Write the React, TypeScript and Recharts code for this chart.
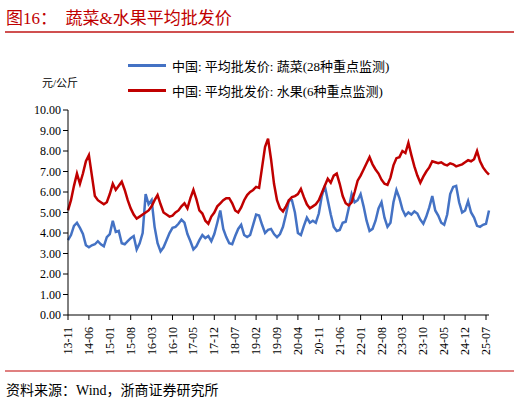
import { LineChart, Line, XAxis, YAxis } from "recharts";

// month labels from 2013-11 to 2025-08
const months: string[] = [];
for (let i = 0; i < 142; i++) {
  const y = 2013 + Math.floor((10 + i) / 12);
  const m = ((10 + i) % 12) + 1;
  months.push(`${String(y).slice(2)}-${m < 10 ? "0" + m : m}`);
}

// 蔬菜 (28种重点监测), 元/公斤
const vegetable = [
  3.65, 3.9, 4.35, 4.5, 4.25, 3.95, 3.4, 3.3, 3.4, 3.45,
  3.6, 3.45, 3.35, 3.8, 3.95, 4.6, 4.05, 4.1, 3.5, 3.45,
  3.6, 3.75, 3.85, 3.2, 3.5, 4.0, 5.9, 5.4, 5.6, 4.3,
  3.5, 3.1, 3.3, 3.65, 4.0, 4.25, 4.3, 4.45, 4.65, 4.5,
  3.95, 3.6, 3.2, 3.35, 3.65, 3.9, 3.75, 3.85, 3.6, 3.95,
  4.5, 5.1, 4.2, 3.8, 3.5, 3.45, 3.85, 4.2, 4.4, 3.9,
  3.8, 3.9, 4.4, 4.9, 4.85, 4.4, 4.0, 4.15, 4.2, 3.95,
  3.8, 3.95, 4.3, 4.9, 5.6, 5.6, 5.0, 4.0, 3.9, 4.35,
  4.75, 4.5, 4.6, 4.5, 4.95, 5.8, 6.3, 5.6, 4.9, 4.3,
  4.1, 4.15, 4.5, 4.55, 5.2, 5.9, 5.5, 5.6, 5.9, 5.3,
  4.6, 4.1, 4.2, 4.6, 5.2, 5.5, 4.75, 4.3, 4.5, 5.5,
  6.1, 5.7, 5.15, 4.85, 5.0, 4.9, 5.05, 4.95, 4.65, 4.45,
  4.8, 5.25, 5.8, 5.1, 4.85, 4.5, 4.4, 4.9, 5.9, 6.25,
  6.3, 5.5, 5.0, 5.1, 5.55, 5.0, 4.75, 4.35, 4.3, 4.4,
  4.45, 5.1,
];

// 水果 (6种重点监测), 元/公斤
const fruit = [
  5.1, 5.6, 6.3, 6.9, 6.4, 6.9, 7.5, 7.8, 6.8, 5.8,
  5.6, 5.5, 5.4, 5.5, 5.9, 6.4, 6.1, 6.3, 6.5, 6.1,
  5.6, 5.2, 4.9, 4.7, 4.8, 4.9, 5.0, 5.1, 5.3, 5.6,
  5.85, 5.4, 5.0, 4.9, 4.8, 4.85, 5.0, 5.1, 5.3, 5.45,
  5.2, 5.7, 6.1, 5.65, 5.1, 4.95, 4.6, 4.45, 4.8, 5.0,
  5.3, 5.45, 5.6, 5.7, 5.7, 5.45, 5.1, 5.0, 5.25, 5.6,
  5.85, 6.0, 6.1, 6.25, 6.2, 7.2, 8.2, 8.6, 7.6, 6.4,
  5.6, 5.2, 5.05, 5.3, 5.6, 5.75, 5.8, 5.9, 6.15, 5.75,
  5.4, 5.2, 5.3, 5.4, 5.6, 5.95, 6.3, 6.65, 6.45, 6.8,
  6.9, 6.4, 5.8, 5.45, 5.35, 5.5, 6.0, 6.55, 6.8, 7.1,
  7.4, 7.7, 7.35, 7.1, 6.9, 6.6, 6.4, 6.35, 6.7, 7.3,
  7.65, 7.7, 8.0, 7.9, 8.4, 7.8, 7.25, 6.8, 6.45, 6.75,
  7.0, 7.2, 7.5, 7.45, 7.4, 7.45, 7.35, 7.3, 7.4, 7.35,
  7.25, 7.3, 7.35, 7.45, 7.55, 7.5, 7.6, 8.0, 7.5, 7.2,
  7.0, 6.85,
];

const yTicks = [0, 1, 2, 3, 4, 5, 6, 7, 8, 9, 10];

const data = months.map((month, i) => ({
  month,
  veg: vegetable[i],
  fruit: fruit[i],
}));

const SERIF = "'Liberation Serif', 'Noto Sans CJK SC', serif";
const BLUE = "#4472C4";
const RED = "#C00000";

function XTick(props: any) {
  const { x, y, payload } = props;
  return (
    <text
      x={x}
      y={y + 5}
      transform={`rotate(-90, ${x}, ${y + 5})`}
      textAnchor="end"
      dominantBaseline="central"
      fontSize={12}
      fontFamily={SERIF}
      fill="#000"
    >
      {payload.value}
    </text>
  );
}

export default function App() {
  return (
    <div
      style={{
        position: "absolute",
        left: 0,
        top: 0,
        width: 520,
        height: 403,
        background: "#fff",
        fontFamily: SERIF,
        overflow: "hidden",
      }}
    >
      <div style={{ position: "absolute", left: 6, top: 4, fontSize: 17, color: RED, whiteSpace: "nowrap" }}>
        图16：&nbsp;&nbsp;蔬菜&amp;水果平均批发价
      </div>
      <div style={{ position: "absolute", left: 5, top: 31, width: 509, height: 1.5, background: "#D05050" }} />

      {/* legend */}
      <div style={{ position: "absolute", left: 128, top: 64, width: 38, height: 3, background: BLUE }} />
      <div style={{ position: "absolute", left: 172, top: 56, fontSize: 13, whiteSpace: "nowrap", color: "#000" }}>
        中国: 平均批发价: 蔬菜(28种重点监测)
      </div>
      <div style={{ position: "absolute", left: 128, top: 89, width: 38, height: 3, background: RED }} />
      <div style={{ position: "absolute", left: 172, top: 81, fontSize: 13, whiteSpace: "nowrap", color: "#000" }}>
        中国: 平均批发价: 水果(6种重点监测)
      </div>
      <div style={{ position: "absolute", left: 42, top: 74, fontSize: 11, whiteSpace: "nowrap", color: "#000" }}>
        元/公斤
      </div>

      <div style={{ position: "absolute", left: 0, top: 0 }}>
        <LineChart
          width={520}
          height={403}
          data={data}
          margin={{ top: 110, right: 31, bottom: 48, left: 8 }}
        >
          <XAxis
            dataKey="month"
            interval={6}
            tick={<XTick />}
            tickSize={5}
            height={40}
            axisLine={{ stroke: "#000" }}
            tickLine={{ stroke: "#000" }}
          />
          <YAxis
            domain={[0, 10]}
            ticks={yTicks}
            width={60}
            tickSize={5}
            tickFormatter={(v: number) => v.toFixed(2)}
            tick={{ fontSize: 12, fontFamily: SERIF, fill: "#000" }}
            axisLine={{ stroke: "#000" }}
            tickLine={{ stroke: "#000" }}
          />
          <Line
            type="linear"
            dataKey="veg"
            stroke={BLUE}
            strokeWidth={2.5}
            dot={false}
            isAnimationActive={false}
          />
          <Line
            type="linear"
            dataKey="fruit"
            stroke={RED}
            strokeWidth={2.5}
            dot={false}
            isAnimationActive={false}
          />
        </LineChart>
      </div>

      <div style={{ position: "absolute", left: 5, top: 370, width: 509, height: 1.5, background: "#E08080" }} />
      <div style={{ position: "absolute", left: 6, top: 379, fontSize: 14, whiteSpace: "nowrap", color: "#000" }}>
        资料来源：Wind，浙商证券研究所
      </div>
    </div>
  );
}
